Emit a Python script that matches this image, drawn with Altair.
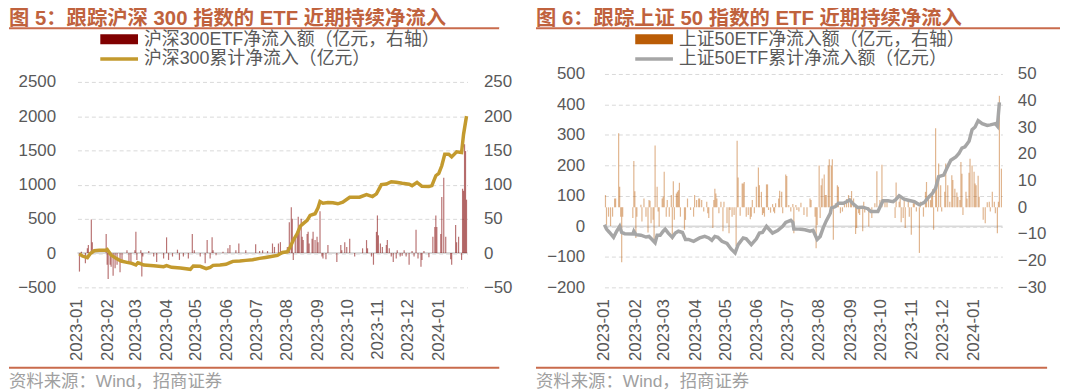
import altair as alt
import pandas as pd

# ---------------------------------------------------------------- data
MONTH_TICKS = ["2023-01", "2023-02", "2023-03", "2023-04", "2023-05", "2023-06", "2023-07",
               "2023-08", "2023-09", "2023-10", "2023-11", "2023-12", "2024-01"]

# 沪深300 累计净流入 (亿元, 左轴)
HS300_CUM_DATES = [
    "2023-01-03", "2023-01-06", "2023-01-11", "2023-01-14", "2023-01-18", "2023-01-23",
    "2023-01-30", "2023-01-31", "2023-02-04", "2023-02-09", "2023-02-14", "2023-02-20",
    "2023-02-25", "2023-03-01", "2023-03-03", "2023-03-05", "2023-03-09", "2023-03-19",
    "2023-03-29", "2023-04-01", "2023-04-06", "2023-04-15", "2023-04-25", "2023-04-28",
    "2023-05-05", "2023-05-11", "2023-05-15", "2023-05-18", "2023-05-25", "2023-05-31",
    "2023-06-04", "2023-06-07", "2023-06-14", "2023-06-20", "2023-06-27", "2023-07-04",
    "2023-07-10", "2023-07-17", "2023-07-22", "2023-07-27", "2023-08-01", "2023-08-04",
    "2023-08-07", "2023-08-11", "2023-08-14", "2023-08-17", "2023-08-21", "2023-08-24",
    "2023-08-29", "2023-09-01", "2023-09-03", "2023-09-06", "2023-09-11", "2023-09-16",
    "2023-09-21", "2023-09-26", "2023-10-03", "2023-10-13", "2023-10-20", "2023-10-26",
    "2023-10-30", "2023-11-04", "2023-11-09", "2023-11-14", "2023-11-19", "2023-11-25",
    "2023-12-02", "2023-12-05", "2023-12-10", "2023-12-15", "2023-12-22", "2023-12-25",
    "2023-12-29", "2024-01-01", "2024-01-04", "2024-01-07", "2024-01-11", "2024-01-14",
    "2024-01-19", "2024-01-24", "2024-01-26", "2024-01-29"]
HS300_CUM = [
    -10, -43, -68, -5, 34, 43, 45, 53, -29, -77, -116, -135,
    -150, -174, -140, -150, -174, -184, -198, -184, -208, -217, -237, -188,
    -193, -227, -208, -179, -174, -164, -140, -121, -116, -106, -97, -77,
    -63, -45, -34, 10, 19, 92, 188, 285, 391, 430, 478, 550,
    575, 662, 753, 729, 739, 734, 720, 744, 816, 816, 855, 826,
    865, 1000, 1009, 1043, 1034, 1019, 1005, 985, 1034, 976, 971, 985,
    1130, 1164, 1275, 1444, 1444, 1405, 1478, 1468, 1734, 2000]

# 沪深300ETF 净流入额 (亿元, 右轴)
HS300_FLOW_DATES = [
    "2023-01-03", "2023-01-05", "2023-01-09", "2023-01-11", "2023-01-12", "2023-01-15",
    "2023-01-16", "2023-01-30", "2023-01-31", "2023-02-01", "2023-02-03", "2023-02-04",
    "2023-02-06", "2023-02-08", "2023-02-10", "2023-02-13", "2023-02-15", "2023-02-20",
    "2023-02-22", "2023-02-24", "2023-02-28", "2023-03-01", "2023-03-02", "2023-03-06",
    "2023-03-07", "2023-03-08", "2023-03-14", "2023-03-19", "2023-03-22", "2023-03-29",
    "2023-04-01", "2023-04-03", "2023-04-07", "2023-04-12", "2023-04-14", "2023-04-18",
    "2023-04-23", "2023-04-27", "2023-04-29", "2023-05-05", "2023-05-10", "2023-05-12",
    "2023-05-15", "2023-05-17", "2023-05-18", "2023-05-21", "2023-05-28", "2023-06-02",
    "2023-06-04", "2023-06-10", "2023-06-13", "2023-06-20", "2023-06-30", "2023-07-04",
    "2023-07-07", "2023-07-12", "2023-07-17", "2023-07-19", "2023-07-23", "2023-07-25",
    "2023-08-01", "2023-08-03", "2023-08-05", "2023-08-06", "2023-08-07", "2023-08-09",
    "2023-08-11", "2023-08-12", "2023-08-13", "2023-08-15", "2023-08-16", "2023-08-17",
    "2023-08-21", "2023-08-22", "2023-08-23", "2023-08-26", "2023-08-27", "2023-08-29",
    "2023-08-31", "2023-09-01", "2023-09-03", "2023-09-05", "2023-09-06", "2023-09-09",
    "2023-09-11", "2023-09-20", "2023-09-24", "2023-09-25", "2023-09-28", "2023-09-30",
    "2023-10-03", "2023-10-08", "2023-10-16", "2023-10-20", "2023-10-21", "2023-10-25",
    "2023-10-27", "2023-10-30", "2023-10-31", "2023-11-01", "2023-11-03", "2023-11-05",
    "2023-11-09", "2023-11-10", "2023-11-12", "2023-11-14", "2023-11-16", "2023-11-19",
    "2023-11-20", "2023-11-23", "2023-11-25", "2023-11-27", "2023-11-29", "2023-12-02",
    "2023-12-05", "2023-12-07", "2023-12-09", "2023-12-11", "2023-12-14", "2023-12-15",
    "2023-12-17", "2023-12-22", "2023-12-26", "2023-12-28", "2023-12-29", "2023-12-30",
    "2024-01-03", "2024-01-04", "2024-01-06", "2024-01-08", "2024-01-13", "2024-01-14",
    "2024-01-18", "2024-01-19", "2024-01-21", "2024-01-24", "2024-01-25", "2024-01-26",
    "2024-01-27", "2024-01-28", "2024-01-29"]
HS300_FLOW = [
    -27, 2, -15, 7, 12, 49, 16, 28, -17, -38, -17, -20,
    -33, -22, -17, -28, -10, 4, -13, -15, 4, 31, -10, 4,
    -34, -5, 3, -5, -13, -8, 23, -10, -5, 5, -10, -5,
    -8, 28, 4, -5, -15, 19, -8, 23, 4, -3, 2, 7,
    12, 4, 14, 4, 13, 3, 4, 3, 14, 9, 14, 16,
    9, 45, 67, 50, -10, 24, 31, 53, 36, 50, 24, 19,
    28, 31, 14, 21, 31, 19, 24, 16, 61, -5, -8, -9,
    12, -13, 12, 4, 16, 9, 21, -5, 7, 19, 7, -5,
    -17, 31, 55, 26, 14, 9, 12, 19, 7, -5, -13, -8,
    4, -5, -4, 4, -5, -17, 3, -5, 34, -8, -20, -10,
    3, -6, 24, 38, 55, 38, 28, 82, 110, 24, -9, -17,
    41, 16, 24, -10, 94, 91, 159, 149, 78]

# 上证50ETF 累计净流入额 (亿元, 左轴)
SZ50_CUM_DATES = [
    "2023-01-01", "2023-01-03", "2023-01-06", "2023-01-10", "2023-01-13", "2023-01-16",
    "2023-01-18", "2023-01-21", "2023-01-29", "2023-01-30", "2023-02-01", "2023-02-06",
    "2023-02-11", "2023-02-14", "2023-02-17", "2023-02-20", "2023-02-22", "2023-02-25",
    "2023-02-28", "2023-03-02", "2023-03-05", "2023-03-09", "2023-03-12", "2023-03-15",
    "2023-03-19", "2023-03-22", "2023-03-25", "2023-03-30", "2023-04-05", "2023-04-10",
    "2023-04-14", "2023-04-17", "2023-04-20", "2023-04-23", "2023-04-27", "2023-05-02",
    "2023-05-06", "2023-05-10", "2023-05-13", "2023-05-18", "2023-05-21", "2023-05-26",
    "2023-05-31", "2023-06-03", "2023-06-06", "2023-06-10", "2023-06-13", "2023-06-16",
    "2023-06-21", "2023-06-26", "2023-06-29", "2023-07-04", "2023-07-06", "2023-07-07",
    "2023-07-12", "2023-07-18", "2023-07-23", "2023-07-26", "2023-07-30", "2023-08-02",
    "2023-08-05", "2023-08-08", "2023-08-12", "2023-08-13", "2023-08-17", "2023-08-20",
    "2023-08-25", "2023-08-28", "2023-08-31", "2023-09-03", "2023-09-08", "2023-09-13",
    "2023-09-18", "2023-09-21", "2023-09-28", "2023-10-03", "2023-10-08", "2023-10-13",
    "2023-10-16", "2023-10-19", "2023-10-24", "2023-10-29", "2023-11-03", "2023-11-08",
    "2023-11-13", "2023-11-16", "2023-11-21", "2023-11-24", "2023-11-27", "2023-12-02",
    "2023-12-05", "2023-12-09", "2023-12-14", "2023-12-17", "2023-12-20", "2023-12-23",
    "2023-12-27", "2023-12-30", "2024-01-02", "2024-01-05", "2024-01-09", "2024-01-14",
    "2024-01-17", "2024-01-22", "2024-01-24", "2024-01-26"]
SZ50_CUM = [
    5, -9, -20, -36, -16, 0, -20, -24, -25, -16, -27, -29,
    -35, -33, -43, -54, -29, -29, -16, -9, -22, -36, -22, -16,
    -20, -43, -43, -49, -38, -33, -38, -46, -33, -36, -49, -56,
    -74, -87, -60, -38, -41, -60, -41, -22, -20, 0, -11, -22,
    -14, 0, 13, 20, 13, -9, -9, -11, -16, -13, -43, -33,
    -5, 18, 43, 60, 65, 76, 76, 81, 87, 76, 62, 63,
    58, 49, 49, 84, 84, 81, 89, 100, 89, 85, 81, 71,
    79, 92, 109, 125, 163, 168, 190, 217, 228, 239, 257, 261,
    279, 317, 326, 347, 337, 331, 333, 337, 329, 407]

# 上证50ETF 净流入额 (亿元, 右轴)
SZ50_FLOW_DATES = [
    "2023-01-02", "2023-01-03", "2023-01-05", "2023-01-07", "2023-01-09", "2023-01-11",
    "2023-01-12", "2023-01-15", "2023-01-16", "2023-01-17", "2023-01-18", "2023-01-19",
    "2023-01-29", "2023-01-30", "2023-01-31", "2023-02-01", "2023-02-02", "2023-02-06",
    "2023-02-07", "2023-02-09", "2023-02-11", "2023-02-13", "2023-02-14", "2023-02-15",
    "2023-02-16", "2023-02-18", "2023-02-19", "2023-02-20", "2023-02-22", "2023-02-23",
    "2023-02-24", "2023-02-27", "2023-02-28", "2023-03-01", "2023-03-03", "2023-03-04",
    "2023-03-06", "2023-03-08", "2023-03-09", "2023-03-10", "2023-03-11", "2023-03-13",
    "2023-03-14", "2023-03-15", "2023-03-16", "2023-03-17", "2023-03-21", "2023-03-22",
    "2023-03-24", "2023-03-27", "2023-03-30", "2023-03-31", "2023-04-02", "2023-04-04",
    "2023-04-05", "2023-04-07", "2023-04-09", "2023-04-12", "2023-04-13", "2023-04-14",
    "2023-04-18", "2023-04-19", "2023-04-20", "2023-04-21", "2023-04-22", "2023-04-24",
    "2023-04-26", "2023-04-28", "2023-04-29", "2023-05-02", "2023-05-04", "2023-05-05",
    "2023-05-07", "2023-05-09", "2023-05-11", "2023-05-12", "2023-05-13", "2023-05-15",
    "2023-05-17", "2023-05-18", "2023-05-19", "2023-05-21", "2023-05-23", "2023-05-25",
    "2023-05-26", "2023-05-27", "2023-05-29", "2023-05-31", "2023-06-02", "2023-06-03",
    "2023-06-05", "2023-06-06", "2023-06-07", "2023-06-08", "2023-06-10", "2023-06-11",
    "2023-06-12", "2023-06-14", "2023-06-16", "2023-06-17", "2023-06-18", "2023-06-19",
    "2023-06-22", "2023-06-23", "2023-06-25", "2023-06-26", "2023-06-29", "2023-06-30",
    "2023-07-02", "2023-07-04", "2023-07-06", "2023-07-07", "2023-07-09", "2023-07-10",
    "2023-07-12", "2023-07-14", "2023-07-17", "2023-07-20", "2023-07-23", "2023-07-24",
    "2023-07-28", "2023-07-29", "2023-07-30", "2023-08-01", "2023-08-02", "2023-08-03",
    "2023-08-04", "2023-08-06", "2023-08-07", "2023-08-08", "2023-08-10", "2023-08-11",
    "2023-08-13", "2023-08-14", "2023-08-15", "2023-08-17", "2023-08-19", "2023-08-20",
    "2023-08-22", "2023-08-24", "2023-08-26", "2023-08-28", "2023-08-30", "2023-09-01",
    "2023-09-02", "2023-09-04", "2023-09-06", "2023-09-07", "2023-09-09", "2023-09-10",
    "2023-09-13", "2023-09-14", "2023-09-15", "2023-09-19", "2023-09-22", "2023-09-25",
    "2023-09-27", "2023-09-30", "2023-10-02", "2023-10-05", "2023-10-07", "2023-10-15",
    "2023-10-16", "2023-10-19", "2023-10-20", "2023-10-21", "2023-10-23", "2023-10-24",
    "2023-10-25", "2023-10-28", "2023-10-29", "2023-10-31", "2023-11-02", "2023-11-03",
    "2023-11-05", "2023-11-08", "2023-11-09", "2023-11-12", "2023-11-14", "2023-11-15",
    "2023-11-17", "2023-11-19", "2023-11-20", "2023-11-21", "2023-11-22", "2023-11-24",
    "2023-11-25", "2023-11-26", "2023-11-27", "2023-11-29", "2023-11-30", "2023-12-03",
    "2023-12-04", "2023-12-06", "2023-12-08", "2023-12-10", "2023-12-11", "2023-12-13",
    "2023-12-15", "2023-12-16", "2023-12-18", "2023-12-19", "2023-12-20", "2023-12-21",
    "2023-12-24", "2023-12-25", "2023-12-27", "2023-12-28", "2023-12-30", "2024-01-01",
    "2024-01-02", "2024-01-03", "2024-01-05", "2024-01-06", "2024-01-10", "2024-01-12",
    "2024-01-14", "2024-01-16", "2024-01-17", "2024-01-19", "2024-01-21", "2024-01-22",
    "2024-01-24", "2024-01-25", "2024-01-26", "2024-01-28"]
SZ50_FLOW = [
    4.6, -6.6, -3.5, -7.0, -3.5, 3.3, 3.3, 27.8, 7.7, -3.5, -20.6, -3.5,
    -4.0, 17.4, 6.0, -11.5, -3.5, 1.0, -5.3, 3.3, -3.5, -9.4, 2.7, 2.5,
    -6.0, -4.7, -13.4, 23.2, 7.7, -1.6, -7.2, 3.3, 4.0, 13.3, -3.5, 2.7,
    -3.5, 4.6, -12.2, 9.8, -4.7, 5.2, 5.8, 6.4, 9.2, -3.5, -8.4, -4.7,
    3.3, -1.0, -3.5, 4.6, 2.7, 3.3, 3.3, 2.7, -1.6, 2.1, -2.2, -4.0,
    -7.8, 2.7, 7.0, 5.2, 3.3, -2.2, 2.1, -9.0, 2.1, -6.0, -9.7, -1.0,
    -3.5, -2.9, -14.6, 25.0, 11.2, -3.2, 8.9, 8.9, 9.5, -3.5, -2.9, -4.5,
    -3.5, 2.7, -2.2, 7.7, 14.9, 8.3, 5.8, -2.9, -2.2, -3.5, 8.6, 8.6,
    -1.0, -2.0, 1.2, -1.6, -2.2, 1.5, 3.3, 6.2, 5.8, -2.2, 12.3, 11.7,
    0.9, -1.6, 1.2, -9.7, 0.9, -1.0, -1.6, 1.7, -2.9, -3.5, 3.3, 2.7,
    -3.5, -15.3, -6.6, 15.7, -4.0, 8.3, 10.8, 12.3, 4.6, 4.6, 15.7, 18.0,
    15.7, 18.0, -12.2, 1.5, 8.3, 7.7, -2.2, -1.6, 2.1, 3.1, 4.6, 3.3,
    6.1, 3.3, -10.0, -7.8, -2.2, -2.9, -9.0, 2.1, -1.9, -7.2, -4.0, 1.5,
    13.5, 2.7, 16.0, 2.1, 2.7, -4.0, 9.3, 2.1, 3.3, -5.6, -4.0, 3.3,
    -7.8, 2.7, -3.5, -10.3, 1.5, 2.1, -1.6, -17.1, 2.1, -3.5, 5.8, 9.5,
    4.6, 2.7, 4.6, 6.8, -8.4, 29.6, 8.3, -1.6, 16.4, 8.3, -1.6, 5.8,
    16.4, 8.3, 2.1, 12.0, 10.2, 7.0, 5.6, 4.0, 2.7, 17.0, 12.6, -2.9,
    5.8, 3.3, 13.0, 18.2, 15.7, 13.3, 8.9, 8.3, 11.8, 4.0, -4.7, -6.0,
    1.9, 2.1, -1.6, 5.8, 2.1, -2.2, -9.7, 2.1, 41.8, 14.5]

# ---------------------------------------------------------------- style
FONT = "Liberation Sans, Noto Sans CJK SC, sans-serif"
TITLE_COLOR = "#C0623D"
RULE_COLOR = "#C96B4C"
GRID_COLOR = "#D9D9D9"
LABEL_COLOR = "#595959"
PLOT_H = 215


def dt(s):
    parts = [int(p) for p in s.split("-")]
    y, m = parts[0], parts[1]
    d = parts[2] if len(parts) > 2 else 1
    return alt.DateTime(year=y, month=m, date=d)


def text_layer(txt, x, y, size, color, weight="normal", baseline="middle"):
    return alt.Chart(pd.DataFrame({"t": [txt]})).mark_text(
        align="left", baseline=baseline, font=FONT, fontSize=size,
        fontWeight=weight, color=color
    ).encode(x=alt.value(x), y=alt.value(y), text="t:N")


def hrule(x1, x2, y, color, width):
    return alt.Chart(pd.DataFrame({"k": [0]})).mark_rule(
        color=color, strokeWidth=width
    ).encode(x=alt.value(x1), x2=alt.value(x2), y=alt.value(y))


def make_panel(p):
    W = p["width"]
    cum = pd.DataFrame({"date": pd.to_datetime(p["cum_dates"]), "value": p["cum"]})
    flow = pd.DataFrame({"date": pd.to_datetime(p["flow_dates"]), "value": p["flow"]})
    months = pd.DataFrame({"date": pd.to_datetime([m + "-01" for m in MONTH_TICKS]),
                           "label": MONTH_TICKS})

    xscale = alt.Scale(domain=[dt("2023-01-01"), dt(p["x_end"])], nice=False, padding=0)
    lscale = alt.Scale(domain=p["left_domain"], nice=False, zero=False)
    rscale = alt.Scale(domain=p["right_domain"], nice=False, zero=False)

    laxis = alt.Axis(orient="left", values=p["left_ticks"], format="d", grid=True,
                     gridColor=GRID_COLOR, gridDash=[4, 3], gridWidth=1,
                     domain=False, ticks=False,
                     labelPadding=p["lpad"], labelFlush=False, title=None)
    raxis = alt.Axis(orient="right", values=p["right_ticks"], format="d", grid=False,
                     domain=False, ticks=False,
                     labelPadding=p["rpad"], labelFlush=False, title=None)

    # month labels under the plot, placed through the x scale
    month_labels = alt.Chart(months).mark_text(
        angle=270, align="right", baseline="middle", font=FONT, fontSize=17,
        color=LABEL_COLOR
    ).encode(x=alt.X("date:T", scale=xscale, axis=None),
             y=alt.value(PLOT_H + 12), text="label:N")

    zero = alt.Chart(pd.DataFrame({"value": [0]})).mark_rule(
        color=GRID_COLOR, strokeWidth=2
    ).encode(x=alt.value(0), x2=alt.value(W),
             y=alt.Y("value:Q", scale=lscale, axis=None))

    bars = alt.Chart(flow).mark_bar(
        size=1.2, color=p["bar_color"], opacity=p["bar_opacity"]
    ).encode(x=alt.X("date:T", scale=xscale, axis=None),
             y=alt.Y("value:Q", scale=rscale, axis=raxis))

    line = alt.Chart(cum).mark_line(
        color=p["line_color"], strokeWidth=3.5
    ).encode(x=alt.X("date:T", scale=xscale, axis=None),
             y=alt.Y("value:Q", scale=lscale, axis=laxis))

    lx = p["legend_x"]
    decor = [
        text_layer(p["title"], p["left"], -49, 20.5, TITLE_COLOR, "bold", "alphabetic"),
        hrule(p["left"], p["rule_end"], -46, RULE_COLOR, 2),
        alt.Chart(pd.DataFrame({"k": [0]})).mark_rect(color=p["bar_color"]).encode(
            x=alt.value(lx), x2=alt.value(lx + 38), y=alt.value(-40), y2=alt.value(-30)),
        text_layer(p["legend_bar"], lx + 44, -34.5, 18, LABEL_COLOR),
        hrule(lx, lx + 38, -15, p["line_color"], 3.5),
        text_layer(p["legend_line"], lx + 44, -15, 18, LABEL_COLOR),
        hrule(p["left"], p["bottom_end"], 296, RULE_COLOR, 2),
        text_layer("资料来源：Wind，招商证券", p["left"], 310, 17.5, "#A0A0A0"),
    ]
    if p.get("pad_end"):
        decor.append(hrule(p["rule_end"], p["pad_end"], -46, "white", 1))

    return alt.layer(*decor, month_labels, zero, bars, line).resolve_scale(
        y="independent").properties(width=W, height=PLOT_H)


panel1 = make_panel(dict(
    width=393, x_end="2024-01-30",
    cum_dates=HS300_CUM_DATES, cum=HS300_CUM,
    flow_dates=HS300_FLOW_DATES, flow=HS300_FLOW,
    left_domain=[-500, 2616], right_domain=[-50, 261.6],
    left_ticks=[-500, 0, 500, 1000, 1500, 2000, 2500],
    right_ticks=[-50, 0, 50, 100, 150, 200, 250],
    lpad=22, rpad=16,
    bar_color="#800000", bar_opacity=0.55, line_color="#C39A2E",
    title="图 5：跟踪沪深 300 指数的 ETF 近期持续净流入",
    legend_bar="沪深300ETF净流入额（亿元，右轴）",
    legend_line="沪深300累计净流入（亿元）",
    left=-69, rule_end=425, bottom_end=425, pad_end=458, legend_x=23,
))

panel2 = make_panel(dict(
    width=401, x_end="2024-01-29",
    cum_dates=SZ50_CUM_DATES, cum=SZ50_CUM,
    flow_dates=SZ50_FLOW_DATES, flow=SZ50_FLOW,
    left_domain=[-200, 500], right_domain=[-30, 50],
    left_ticks=[-200, -100, 0, 100, 200, 300, 400, 500],
    right_ticks=[-30, -20, -10, 0, 10, 20, 30, 40, 50],
    lpad=20, rpad=15,
    bar_color="#BA5C06", bar_opacity=0.45, line_color="#A6A6A6",
    title="图 6：跟踪上证 50 指数的 ETF 近期持续净流入",
    legend_bar="上证50ETF净流入额（亿元，右轴）",
    legend_line="上证50ETF累计净流入额（亿元）",
    left=-69, rule_end=459, bottom_end=446, legend_x=31,
))

chart = alt.hconcat(panel1, panel2, spacing=2).properties(
    padding=0
).configure_view(stroke=None).configure_axis(
    labelFont=FONT, labelFontSize=17, labelColor=LABEL_COLOR
)

chart.save("out.html", embed_options={"renderer": "svg", "actions": False})
